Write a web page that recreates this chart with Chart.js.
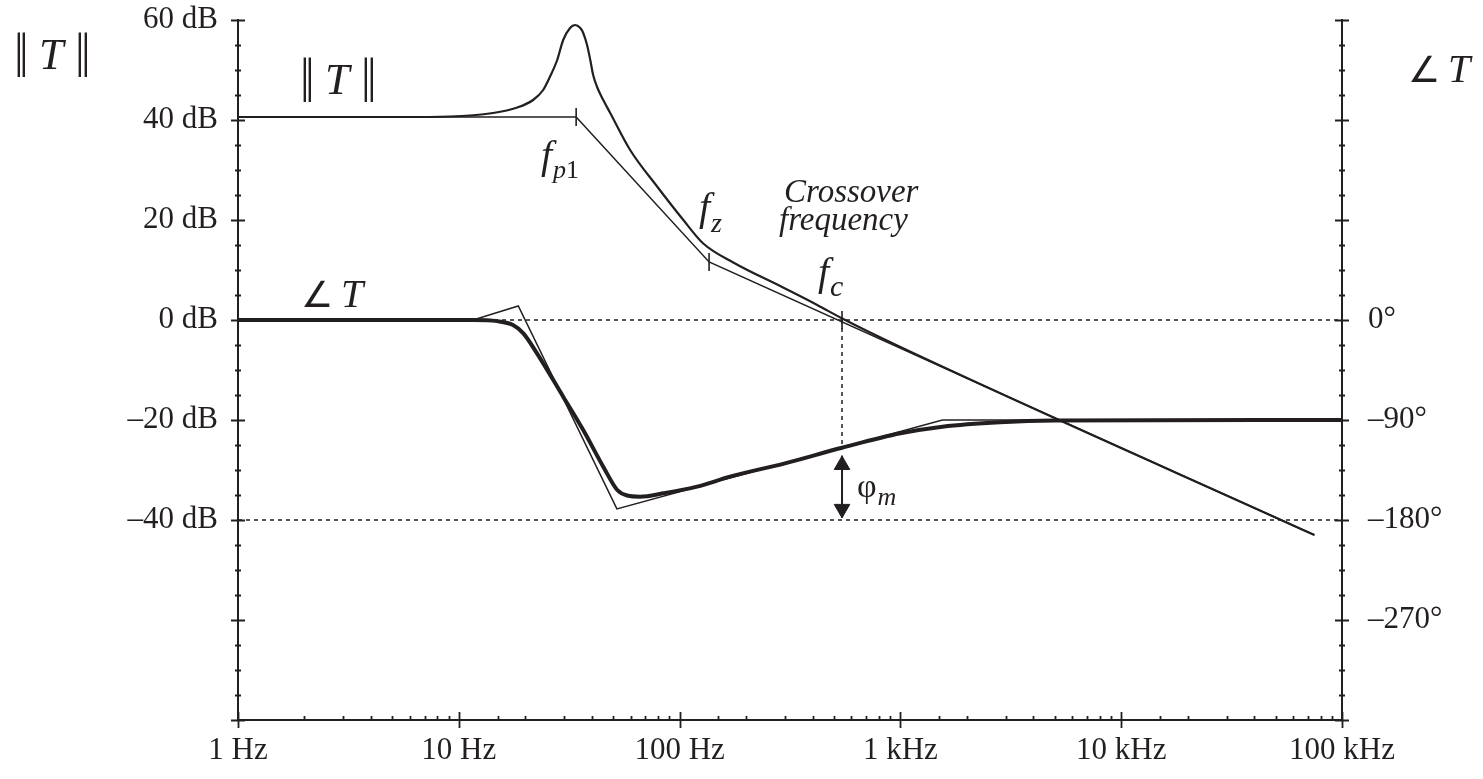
<!DOCTYPE html>
<html>
<head>
<meta charset="utf-8">
<script src="https://cdn.jsdelivr.net/npm/chart.js@4.4.1/dist/chart.umd.min.js"></script>
<style>
  html, body { margin: 0; padding: 0; background: #fff; }
  #wrap { width: 1483px; height: 779px; }
</style>
</head>
<body>
<div id="wrap"><canvas id="bode" width="1483" height="779"></canvas></div>
<script>
// loop gain magnitude, actual curve (Hz, dB)
const magFreq = [1, 5.4, 9.1, 14.3, 18.4, 21.7, 24.1, 25.9, 27.9, 29.7, 31.9, 33.6, 35.5, 36.6, 38.1, 39.4, 40.6, 42.3, 45.1, 48.5, 59.7, 79.1, 104, 128, 175, 294, 420, 545, 1000, 75000];
const magDb   = [40.6, 40.6, 40.7, 41.4, 42.5, 44, 46, 48.7, 52, 56, 58.4, 59, 58.4, 57.4, 55, 52, 49, 46.6, 44, 41.4, 34, 26.7, 20, 15.3, 11.5, 6.5, 3.0, 0.3, -5.4, -43];

// magnitude asymptotes
const magAsymFreq = [1, 34, 136, 75000];
const magAsymDb   = [40.6, 40.6, 11.6, -43];

// phase, actual curve (Hz, degrees)
const phaseFreq = [1, 5, 11.6, 14.9, 17.6, 19.6, 22.6, 29.7, 36.6, 45.1, 52.2, 57.9, 66.3, 84.3, 120, 169, 300, 544, 1000, 1550, 2830, 5000, 100000];
const phaseDeg  = [0, 0, 0, -1, -4.5, -12, -30, -69, -99, -132, -153, -158, -159, -156, -150, -141, -129, -115, -102, -96, -92, -90.5, -90];

// phase asymptotes
const phaseAsymFreq = [1, 11.6, 18.6, 52, 1550, 100000];
const phaseAsymDeg  = [0, 0, 12.6, -170, -90, -90];

// corner / crossover frequencies
const fp1 = 34, fz = 136, fc = 544;
const cornerFreq = [fp1, fz, fc];
const cornerDb   = [40.6, 11.6, 0];
const phaseAtFc = -115;
const marginArrow = [-122, -178];     // shaft ends (deg)
const marginHeads = [-130.5, -170];   // arrow head centres (deg)

// tick labels
const freqTickValues = [1, 10, 100, 1000, 10000, 100000];
const freqTickLabels = ['1 Hz', '10 Hz', '100 Hz', '1 kHz', '10 kHz', '100 kHz'];
const dbTickValues = [60, 40, 20, 0, -20, -40];
const phaseTickValues = [0, -90, -180, -270];

const INK = '#231f20';
const SERIF = "'Liberation Serif', 'Times New Roman', serif";

const pts = (xs, ys) => xs.map((x, i) => ({ x: x, y: ys[i] }));
const neg = v => (v < 0 ? '\u2013' : '') + Math.abs(v);

// tick marks crossing / inside the axes
const tickMarks = {
    id: 'tickMarks',
    afterDraw(chart) {
        const ctx = chart.ctx;
        const { x, yDb, yPh } = chart.scales;
        ctx.save();
        ctx.strokeStyle = INK;
        ctx.lineWidth = 1.8;
        ctx.beginPath();
        x.ticks.forEach(t => {
            const px = Math.round(x.getPixelForValue(t.value)) + 0.5;
            const lg = Math.log10(t.value);
            const major = Math.abs(lg - Math.round(lg)) < 1e-6;
            const y0 = x.top;
            if (major) { ctx.moveTo(px, y0 - 8); ctx.lineTo(px, y0 + 8); }
            else { ctx.moveTo(px, y0 - 4); ctx.lineTo(px, y0); }
        });
        yDb.ticks.forEach(t => {
            const py = Math.round(yDb.getPixelForValue(t.value)) + 0.5;
            const x0 = yDb.right;
            const m = Math.abs(t.value % 20) < 1e-6 ? 7 : 3;
            ctx.moveTo(x0 - m, py); ctx.lineTo(x0 + m, py);
        });
        yPh.ticks.forEach(t => {
            const py = Math.round(yPh.getPixelForValue(t.value)) + 0.5;
            const x0 = yPh.left;
            const m = Math.abs(t.value % 90) < 1e-6 ? 7 : 3;
            ctx.moveTo(x0 - m, py); ctx.lineTo(x0 + m, py);
        });
        ctx.stroke();
        ctx.restore();
    }
};

// text annotations; each piece: [text, size, italic, dy, gap]
const notes = {
    id: 'notes',
    afterDraw(chart) {
        const ctx = chart.ctx;
        ctx.save();
        ctx.fillStyle = INK;
        ctx.textBaseline = 'alphabetic';
        const put = (s, x, y, size, italic) => {
            ctx.font = (italic ? 'italic ' : '') + size + 'px ' + SERIF;
            ctx.fillText(s, x, y);
        };
        const seq = (x, y, parts) => {
            parts.forEach(([s, size, italic, dy, gap]) => {
                put(s, x, y + (dy || 0), size, italic);
                x += ctx.measureText(s).width + (gap || 0);
            });
        };
        const norm = (x, y) => {
            put('|', x, y - 2, 48, false); put('|', x + 5, y - 2, 48, false);
            put('T', x + 25, y, 44, true);
            put('|', x + 61, y - 2, 48, false); put('|', x + 67, y - 2, 48, false);
        };
        norm(14, 69);
        norm(300, 94);

        seq(1408, 82, [['\u2220', 36, false, 0, 8], ['T', 40, true]]);
        seq(301, 307, [['\u2220', 36, false, 0, 8], ['T', 40, true]]);

        seq(541, 168, [['f', 40, true, 0, 1], ['p', 26, true, 10], ['1', 26, false, 10]]);
        seq(699, 220, [['f', 40, true, 0, 1], ['z', 28, true, 12]]);
        seq(818, 285, [['f', 40, true, 0, 1], ['c', 30, true, 11]]);

        seq(784, 202, [['Crossover', 33, true]]);
        seq(779, 230, [['frequency', 33, true]]);

        seq(857, 497, [['\u03c6', 34, false, 0, 1], ['m', 26, true, 8]]);
        ctx.restore();
    }
};

const thin = { borderColor: INK, backgroundColor: INK, pointRadius: 0, showLine: true, fill: false };
const noPad = s => { s.paddingTop = 0; s.paddingBottom = 0; s.paddingLeft = 0; s.paddingRight = 0; };

new Chart(document.getElementById('bode'), {
    type: 'scatter',
    data: {
        datasets: [
            { ...thin, data: pts(phaseFreq, phaseDeg), yAxisID: 'yPh', borderWidth: 4, cubicInterpolationMode: 'monotone', borderCapStyle: 'butt' },
            { ...thin, data: pts(phaseAsymFreq, phaseAsymDeg), yAxisID: 'yPh', borderWidth: 1.5 },
            { ...thin, data: pts(magFreq, magDb), yAxisID: 'yDb', borderWidth: 2.2, cubicInterpolationMode: 'monotone' },
            { ...thin, data: pts(magAsymFreq, magAsymDb), yAxisID: 'yDb', borderWidth: 1.5 },
            { ...thin, data: [{ x: 1, y: 0 }, { x: 100000, y: 0 }], yAxisID: 'yDb', borderWidth: 1.5, borderDash: [4, 4] },
            { ...thin, data: [{ x: 1, y: -180 }, { x: 100000, y: -180 }], yAxisID: 'yPh', borderWidth: 1.5, borderDash: [4, 4] },
            { ...thin, data: [{ x: fc, y: 0 }, { x: fc, y: phaseAtFc }], yAxisID: 'yPh', borderWidth: 1.5, borderDash: [4, 4] },
            { ...thin, data: pts(cornerFreq, cornerDb), yAxisID: 'yDb', showLine: false, pointStyle: 'line', pointRotation: 90, pointRadius: 9, borderWidth: 1.6 },
            { ...thin, data: marginArrow.map(v => ({ x: fc, y: v })), yAxisID: 'yPh', borderWidth: 2 },
            { ...thin, data: marginHeads.map(v => ({ x: fc, y: v })), yAxisID: 'yPh', showLine: false, pointStyle: 'triangle', pointRotation: [0, 180], pointRadius: 9, borderWidth: 1 }
        ]
    },
    options: {
        responsive: false,
        devicePixelRatio: 1,
        animation: false,
        layout: { padding: { top: 20, left: 0, right: 0, bottom: 0 } },
        plugins: { legend: { display: false }, tooltip: { enabled: false } },
        scales: {
            x: {
                type: 'logarithmic',
                position: 'bottom',
                min: 1, max: 100000,
                afterFit: s => { s.height = 59; noPad(s); },
                grid: { drawOnChartArea: false, drawTicks: false },
                border: { color: INK, width: 2 },
                ticks: {
                    autoSkip: false, maxRotation: 0, padding: 12,
                    color: INK, font: { family: SERIF, size: 31 },
                    callback: v => {
                        const i = freqTickValues.findIndex(f => Math.abs(f - v) < f * 1e-6);
                        return i >= 0 ? freqTickLabels[i] : '';
                    }
                }
            },
            yDb: {
                type: 'linear',
                position: 'left',
                min: -80, max: 60,
                afterFit: s => { s.width = 238; noPad(s); },
                grid: { drawOnChartArea: false, drawTicks: false },
                border: { color: INK, width: 2 },
                ticks: {
                    stepSize: 5, autoSkip: false, padding: 20,
                    color: INK, font: { family: SERIF, size: 31 },
                    callback: v => dbTickValues.includes(v) ? neg(v) + ' dB' : ''
                }
            },
            yPh: {
                type: 'linear',
                position: 'right',
                min: -360, max: 270,
                afterFit: s => { s.width = 141; noPad(s); },
                grid: { drawOnChartArea: false, drawTicks: false },
                border: { color: INK, width: 2 },
                ticks: {
                    stepSize: 22.5, autoSkip: false, padding: 26,
                    color: INK, font: { family: SERIF, size: 31 },
                    callback: v => phaseTickValues.includes(v) ? neg(v) + '\u00b0' : ''
                }
            }
        }
    },
    plugins: [tickMarks, notes]
});
</script>
</body>
</html>
